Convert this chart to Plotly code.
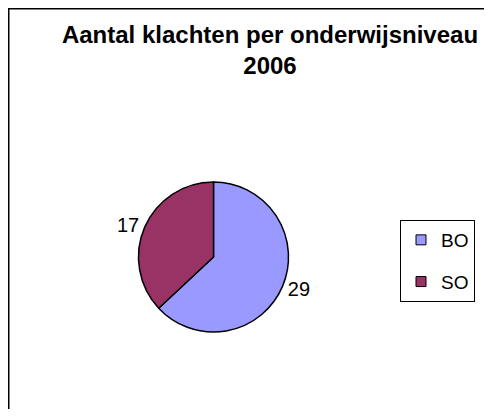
import plotly.graph_objects as go

CATEGORIES = ["BO", "SO"]
VALUES = [29, 17]
COLORS = ["#9999FF", "#993366"]
TITLE_LINES = ["Aantal klachten per onderwijsniveau", "2006"]

OFF = 8  # page body margin of the browser
W, H = 492 - OFF, 417 - 2 * OFF
FONT = "Liberation Sans, Arial, sans-serif"

# pie geometry (pixels, in figure coordinates)
cx, cy, r = 213.5 - OFF, 257.0 - OFF, 75.0

fig = go.Figure()
fig.add_trace(go.Pie(
    labels=CATEGORIES,
    values=VALUES,
    marker=dict(colors=COLORS, line=dict(color="black", width=1.5)),
    sort=False,
    direction="clockwise",
    rotation=0,
    textinfo="value",
    textposition="outside",
    outsidetextfont=dict(family=FONT, size=20, color="black"),
    showlegend=False,
    hoverinfo="label+value",
    domain=dict(x=[(cx - r) / W, (cx + r) / W], y=[1 - (cy + r) / H, 1 - (cy - r) / H]),
))

# legend entries (one per category, spaced like the reference)
for cat, col in zip(CATEGORIES, COLORS):
    fig.add_trace(go.Scatter(
        x=[None], y=[None], mode="markers", name=cat, legendgroup=cat,
        marker=dict(symbol="square", size=10, color=col, line=dict(color="black", width=1)),
        hoverinfo="skip",
    ))

fig.update_layout(
    width=W, height=H,
    margin=dict(l=0, r=0, t=0, b=0, autoexpand=False),
    paper_bgcolor="white", plot_bgcolor="white",
    font=dict(family=FONT, color="black"),
    title=dict(
        text="<b>" + "<br>".join(TITLE_LINES) + "</b>",
        font=dict(family=FONT, size=24, color="black"),
        x=(270 - OFF) / W, xanchor="center",
        y=1 - 35 / H, yanchor="top",
    ),
    xaxis=dict(visible=False), yaxis=dict(visible=False),
    showlegend=True,
    legend=dict(
        x=(400 - OFF) / W, xanchor="left", y=1 - (220 - OFF) / H, yanchor="top",
        bordercolor="black", borderwidth=1, bgcolor="white",
        font=dict(family=FONT, size=19, color="black"),
        traceorder="grouped", tracegroupgap=14,
    ),
    shapes=[dict(
        type="rect", xref="paper", yref="paper",
        x0=0, x1=1.05, y0=-0.05, y1=1,
        line=dict(color="black", width=3), fillcolor="rgba(0,0,0,0)", layer="below",
    )],
)

fig.write_html("out.html")
